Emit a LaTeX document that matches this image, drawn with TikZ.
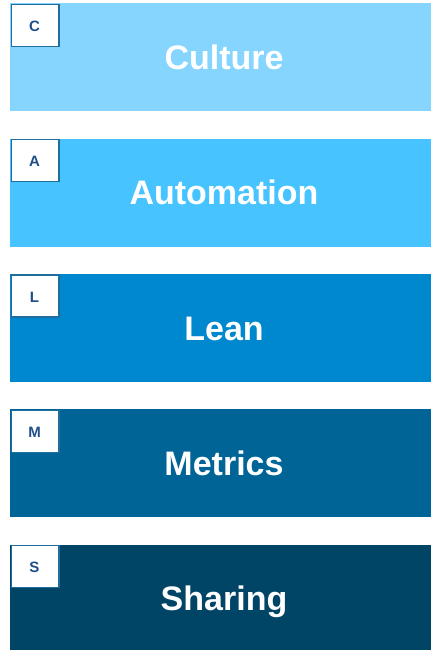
\documentclass[tikz,border=0pt]{standalone}
\usepackage{fontspec}
\setmainfont{Liberation Sans}
\definecolor{cA}{HTML}{86D5FF}
\definecolor{cB}{HTML}{47C3FF}
\definecolor{cC}{HTML}{0088CE}
\definecolor{cD}{HTML}{006596}
\definecolor{cE}{HTML}{004466}
\definecolor{boxline}{HTML}{1F6E9E}
\definecolor{lettercol}{HTML}{1F4E89}
\tikzset{
  bar/.style={draw=none, minimum width=421pt, minimum height=108pt, inner sep=0pt, anchor=north west},
  barlabel/.style={text=white, font=\bfseries\fontsize{34}{34}\selectfont, inner sep=0pt, anchor=base},
  letterbox/.style={draw=boxline, line width=1.3pt, fill=white, minimum width=47.5pt, minimum height=42pt, inner sep=0pt, anchor=north west},
  boxletter/.style={text=lettercol, font=\bfseries\fontsize{15}{15}\selectfont, inner sep=0pt, anchor=base},
}
\begin{document}
\begin{tikzpicture}[x=1pt,y=-1pt]
\useasboundingbox (0,0) rectangle (431,650);
\begin{scope}
\clip (0,0) rectangle (431,650);
\foreach \n/\ty/\mycol/\mylab/\ltr in {1/3/cA/Culture/C, 2/138.3/cB/Automation/A, 3/273.7/cC/Lean/L, 4/409/cD/Metrics/M, 5/544.3/cE/Sharing/S}{
  \node[bar, fill=\mycol] (bar\n) at (10,\ty) {};
  \node[barlabel] (lab\n) at (224,\ty+66.5) {\mylab};
  \node[letterbox] (box\n) at (10.7,\ty+0.7) {};
  \node[boxletter] (ltr\n) at (34.5,\ty+28.5) {\ltr};
}
\end{scope}
\end{tikzpicture}
\end{document}
